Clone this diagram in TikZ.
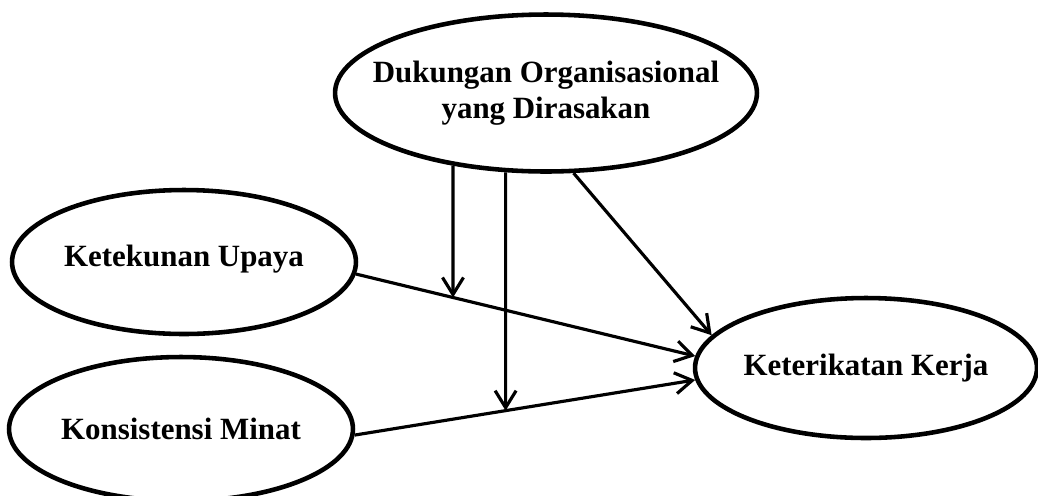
\documentclass[tikz,border=0pt]{standalone}
\usepackage{fontspec}
\setmainfont{Liberation Serif}
\usetikzlibrary{calc,positioning,arrows.meta,shapes.geometric}
\tikzset{
  line/.style={-{Straight Barb[length=3.4mm,width=4.2mm]}, line width=1.8pt},
  var/.style={draw, ellipse, line width=2.6pt, inner sep=0pt},
  vartext/.style={align=center, font=\bfseries\fontsize{17.6}{20.5}\selectfont},
  bigvar/.style={var, minimum width=84.4mm, minimum height=31.4mm},
  smallvar/.style={var, minimum width=68.8mm, minimum height=28.8mm}
}
\begin{document}
\begin{tikzpicture}[x=0.02cm, y=-0.02cm]
  \useasboundingbox (0,0) rectangle (1038,495);
  \node[bigvar] (DOD) at (546,93) {};
  \node[vartext] (DODt) at (DOD) {Dukungan Organisasional\\yang Dirasakan};
  \node[smallvar] (KU) at (184,262) {};
  \node[vartext] (KUt) at ([yshift=0.6mm]KU) {Ketekunan Upaya};
  \node[smallvar] (KM) at (181,429) {};
  \node[vartext] (KMt) at (KM) {Konsistensi Minat};
  \node[smallvar, minimum width=68.4mm, minimum height=28mm] (KK) at (866,368) {};
  \node[vartext] (KKt) at (KK) {Keterikatan Kerja};
  % direct paths
  \coordinate (ku) at (KU.-4);
  \coordinate (kk1) at (KK.176);
  \coordinate (km) at (KM.-2);
  \coordinate (kk2) at (KK.-176);
  \draw[line] (ku) -- (kk1);
  \draw[line] (km) -- (kk2);
  \draw[line] (DOD.-71) -- (KK.168);
  % moderation
  \coordinate (d1) at (DOD.-142);
  \coordinate (d1b) at ([yshift=-40mm]d1);
  \coordinate (d2) at (DOD.-117);
  \coordinate (d2b) at ([yshift=-60mm]d2);
  \coordinate (m1) at (intersection of d1--d1b and ku--kk1);
  \coordinate (m2) at (intersection of d2--d2b and km--kk2);
  \draw[line] (d1) -- (m1);
  \draw[line] (d2) -- (m2);
\end{tikzpicture}
\end{document}
